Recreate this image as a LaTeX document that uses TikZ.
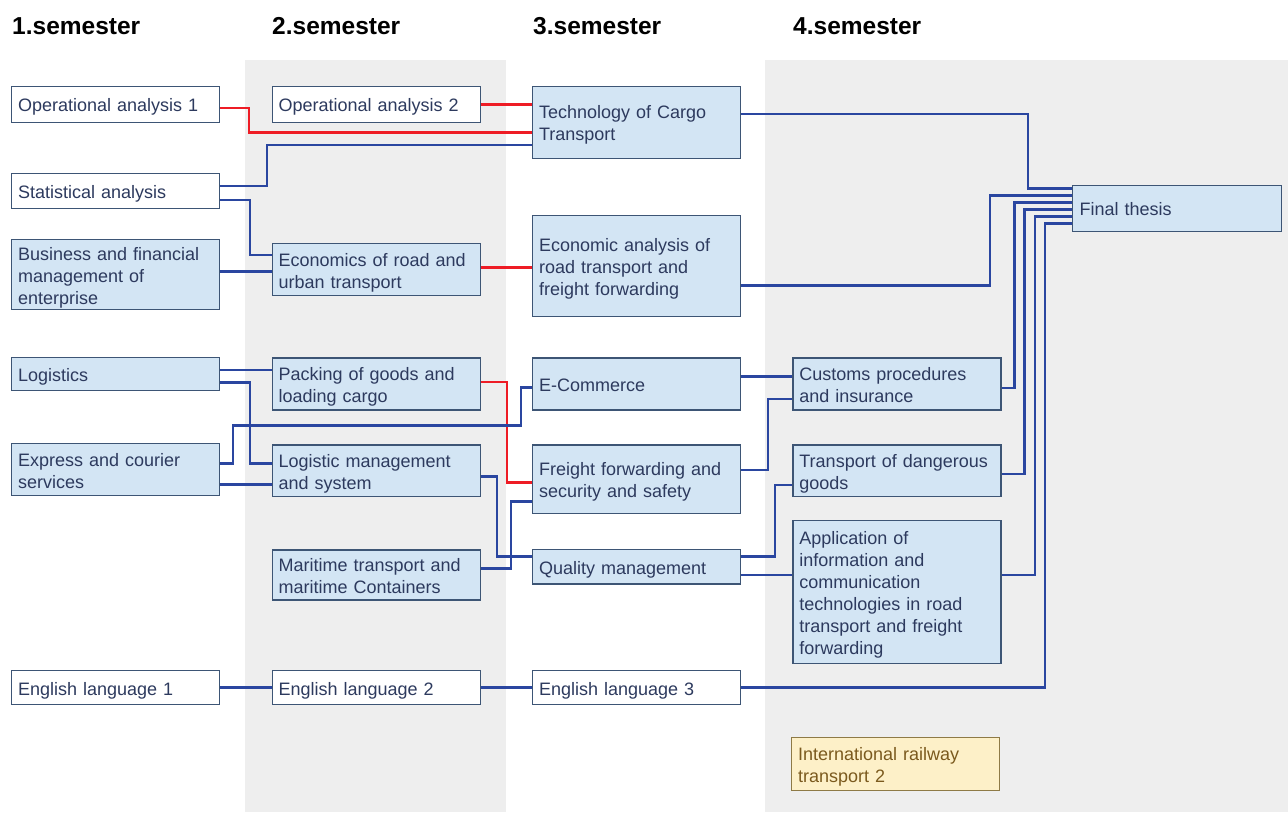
\documentclass[tikz,border=0pt]{standalone}
\usepackage{fontspec}
\setmainfont{Liberation Sans}
\definecolor{bordc}{HTML}{3D5575}
\definecolor{boxb}{HTML}{D3E5F4}
\definecolor{txtc}{HTML}{2D3A5E}
\definecolor{lineb}{HTML}{2A46A0}
\definecolor{liner}{HTML}{EE1C25}
\definecolor{yelf}{HTML}{FDF0C8}
\definecolor{yeld}{HTML}{8E7A46}
\definecolor{yelt}{HTML}{7B5A1E}
\definecolor{bgg}{HTML}{EEEEEE}
\newcommand\topstrut{\rule{0pt}{19pt}}
\newcommand\botstrut{\rule[-4pt]{0pt}{4pt}}
\begin{document}
\begin{tikzpicture}[x=1pt,y=-1pt,
 box/.style={draw=bordc, line width=1.2pt, fill=boxb, text=txtc, anchor=north west, minimum width=208pt, text width=195pt, inner xsep=6.5pt, inner ysep=0pt, align=left, font=\fontsize{18}{22}\selectfont, execute at begin node=\topstrut, execute at end node=\botstrut},
 wbox/.style={box, fill=white},
 ybox/.style={box, fill=yelf, draw=yeld, text=yelt},
 bl/.style={draw=lineb, line width=2.4pt},
 rd/.style={draw=liner, line width=2.4pt},
 hdr/.style={anchor=base west, font=\fontsize{24.5}{28}\selectfont\bfseries, inner sep=0pt}]
\useasboundingbox (0,0) rectangle (1288,812);
% background columns
\fill[bgg] (245,60) rectangle (506,812);
\fill[bgg] (765,60) rectangle (1288,812);
% headers
\node[hdr] (h1) at (12,34) {1.semester};
\node[hdr] (h2) at (272,34) {2.semester};
\node[hdr] (h3) at (533,34) {3.semester};
\node[hdr] (h4) at (793,34) {4.semester};
% column 1
\node[wbox, minimum height=35.5pt] (oa1) at (11,86) {Operational analysis 1};
\node[wbox, minimum height=35.5pt] (stat) at (11,172.5) {Statistical analysis};
\node[box, minimum height=70pt] (bus) at (11,239) {Business and financial\\management of\\enterprise};
\node[box, minimum height=33pt] (logi) at (11,357) {Logistics};
\node[box, minimum height=52pt] (expr) at (11,443) {Express and courier\\services};
\node[wbox, minimum height=34pt] (eng1) at (11,670) {English language 1};
% column 2
\node[wbox, minimum height=35.5pt] (oa2) at (271.5,86) {Operational analysis 2};
\node[box, minimum height=52pt] (econ) at (271.5,243) {Economics of road and\\urban transport};
\node[box, minimum height=52pt] (pack) at (271.5,357.3) {Packing of goods and\\loading cargo};
\node[box, minimum height=51.7pt] (lmgmt) at (271.5,444.3) {Logistic management\\and system};
\node[box, minimum height=50pt] (mari) at (271.5,549.3) {Maritime transport and\\maritime Containers};
\node[wbox, minimum height=34pt] (eng2) at (271.5,670) {English language 2};
% column 3
\node[box, minimum height=71.5pt] (tech) at (532,86) {Technology of Cargo\\Transport};
\node[box, minimum height=100.5pt] (ecan) at (532,215) {Economic analysis of\\road transport and\\freight forwarding};
\node[box, minimum height=52pt] (ecom) at (532,357.3) {E-Commerce};
\node[box, minimum height=68.4pt] (frei) at (532,444.3) {Freight forwarding and\\security and safety};
\node[box, minimum height=34.3pt] (qual) at (532,549) {Quality management};
\node[wbox, minimum height=34pt] (eng3) at (532,670) {English language 3};
% column 4
\node[box, minimum height=52pt] (cust) at (792.3,357.3) {Customs procedures\\and insurance};
\node[box, minimum height=51.7pt] (dang) at (792.3,444.3) {Transport of dangerous\\goods};
\node[box, minimum height=142.7pt] (appl) at (792.3,520) {Application of\\information and\\communication\\technologies in road\\transport and freight\\forwarding};
\node[ybox, minimum height=53pt] (rail) at (791,737) {International railway\\transport 2};
\node[box, minimum height=45.5pt, minimum width=209pt] (fin) at (1072,185) {Final thesis};
% red connectors
\draw[rd] (oa2.east) -- (oa2.east -| tech.west);
\draw[rd] ([yshift=-3.9pt]oa1.east) -- ++(29,0) |- ([yshift=-10pt]tech.west);
\draw[rd] ([yshift=2.3pt]econ.east) -- ([yshift=2.3pt]econ.east -| ecan.west);
\draw[rd] ([yshift=2pt]pack.east) -- ++(26.5,0) |- ([yshift=-3.2pt]frei.west);
% blue connectors
\draw[bl] ([yshift=4.6pt]stat.east) -- ++(47,0) |- ([yshift=-22.6pt]tech.west);
\draw[bl] ([yshift=-9pt]stat.east) -- ++(30,0) |- ([yshift=14.7pt]econ.west);
\draw[bl] ([yshift=3.3pt]bus.east) -- ([yshift=3.3pt]bus.east -| econ.west);
\draw[bl] ([yshift=4.2pt]logi.east) -- ([yshift=4.2pt]logi.east -| pack.west);
\draw[bl] ([yshift=-8.2pt]logi.east) -- ++(30,0) |- ([yshift=7.2pt]lmgmt.west);
\draw[bl] ([yshift=6.3pt]expr.east) -- ++(13,0) |- (520.7,425.3) |- ([yshift=-3.4pt]ecom.west);
\draw[bl] ([yshift=-15pt]expr.east) -- ([yshift=-15pt]expr.east -| lmgmt.west);
\draw[bl] ([yshift=-5.8pt]lmgmt.east) -- ++(16,0) |- ([yshift=10.2pt]qual.west);
\draw[bl] ([yshift=6.6pt]mari.east) -- ++(30,0) |- ([yshift=-22.5pt]frei.west);
\draw[bl] (eng1.east) -- (eng2.west);
\draw[bl] (eng2.east) -- (eng3.west);
\draw[bl] ([yshift=7.6pt]ecom.east) -- ([yshift=7.6pt]cust.west);
\draw[bl] ([yshift=9.2pt]frei.east) -- ++(26.7,0) |- ([yshift=-15pt]cust.west);
\draw[bl] ([yshift=10.2pt]qual.east) -- ++(34,0) |- ([yshift=-14.1pt]dang.west);
\draw[bl] ([yshift=-8.1pt]qual.east) -- ([yshift=-8.1pt]qual.east -| appl.west);
\draw[bl] ([yshift=8.4pt]tech.east) -- ++(287,0) |- ([yshift=19.75pt]fin.west);
\draw[bl] ([yshift=-19.8pt]ecan.east) -- ++(249,0) |- ([yshift=12.75pt]fin.west);
\draw[bl] ([yshift=-4pt]cust.east) -- ++(13,0) |- ([yshift=5.75pt]fin.west);
\draw[bl] ([yshift=-3.1pt]dang.east) -- ++(23,0) |- ([yshift=-1.25pt]fin.west);
\draw[bl] ([yshift=17pt]appl.east) -- ++(33.5,0) |- ([yshift=-8.25pt]fin.west);
\draw[bl] (eng3.east) -- ++(304,0) |- ([yshift=-15.25pt]fin.west);
\end{tikzpicture}
\end{document}
